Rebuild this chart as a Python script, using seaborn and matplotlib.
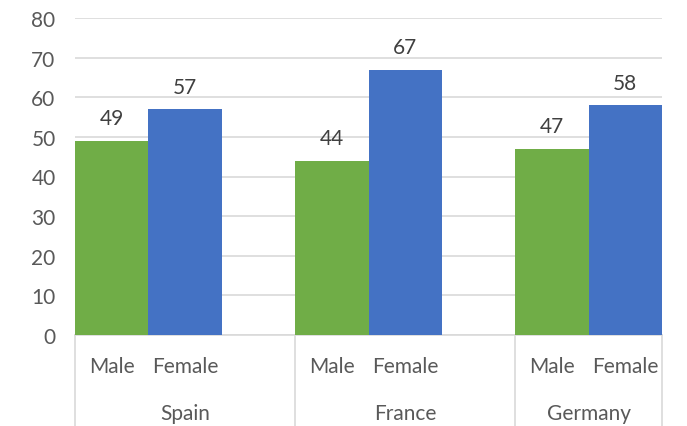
import matplotlib
matplotlib.use("Agg")
import matplotlib.pyplot as plt
import matplotlib.transforms as mtransforms
import pandas as pd
import seaborn as sns

countries = ["Spain", "France", "Germany"]
sexes = ["Male", "Female"]
male = [49, 44, 47]
female = [57, 67, 58]

df = pd.DataFrame({
    "Country": countries * 2,
    "Sex": ["Male"] * 3 + ["Female"] * 3,
    "Value": male + female,
})

sns.set_theme(style="white")
plt.rcParams["font.family"] = ["Lato", "DejaVu Sans"]
txt = "#595959"
grid = "#D9D9D9"
fs = 15

fig = plt.figure(figsize=(6.87, 4.27), dpi=100)
ax = fig.add_axes([75 / 687, 1 - 336 / 427, (662 - 75) / 687, (336 - 19) / 427])

sns.barplot(data=df, x="Country", y="Value", hue="Sex", order=countries, hue_order=sexes,
            palette={"Male": "#70AD47", "Female": "#4472C4"}, width=2 / 3, gap=0,
            saturation=1, legend=False, linewidth=0, ax=ax, zorder=3)

for c in ax.containers:
    ax.bar_label(c, padding=9, fontsize=fs, color="#404040")

w = 2 / 3
left = -w / 2
right = len(countries) - 1 + w / 2
ax.set_xlim(left, right)
ax.set_ylim(0, 80)
ax.set_yticks(range(0, 81, 10))
ax.yaxis.grid(True, color=grid, linewidth=1.2, zorder=0)
ax.tick_params(axis="y", length=0, pad=14, labelsize=fs, labelcolor=txt)
ax.set_xticks([])
ax.set_xlabel("")
ax.set_ylabel("")
for s in ["top", "right", "left"]:
    ax.spines[s].set_visible(False)
ax.spines["bottom"].set_color(grid)
ax.spines["bottom"].set_linewidth(1.2)

# two-level category axis
tr = mtransforms.blended_transform_factory(ax.transData, ax.transAxes)
bottom = -(427 - 336) / 317
bounds = [left + i for i in range(len(countries))] + [right]
for b in bounds:
    ax.plot([b, b], [0, bottom], transform=tr, color=grid, linewidth=1.2, clip_on=False)

for c, sex in zip(ax.containers, sexes):
    for p in c.patches:
        ax.text(p.get_x() + p.get_width() / 2, -(367 - 336) / 317, sex, transform=tr,
                ha="center", va="center", fontsize=fs, color=txt)

for i, name in enumerate(countries):
    mid = (bounds[i] + bounds[i + 1]) / 2
    ax.text(mid, -(414 - 336) / 317, name, transform=tr, ha="center", va="center",
            fontsize=fs, color=txt)

fig.savefig("out.png", dpi=100)
